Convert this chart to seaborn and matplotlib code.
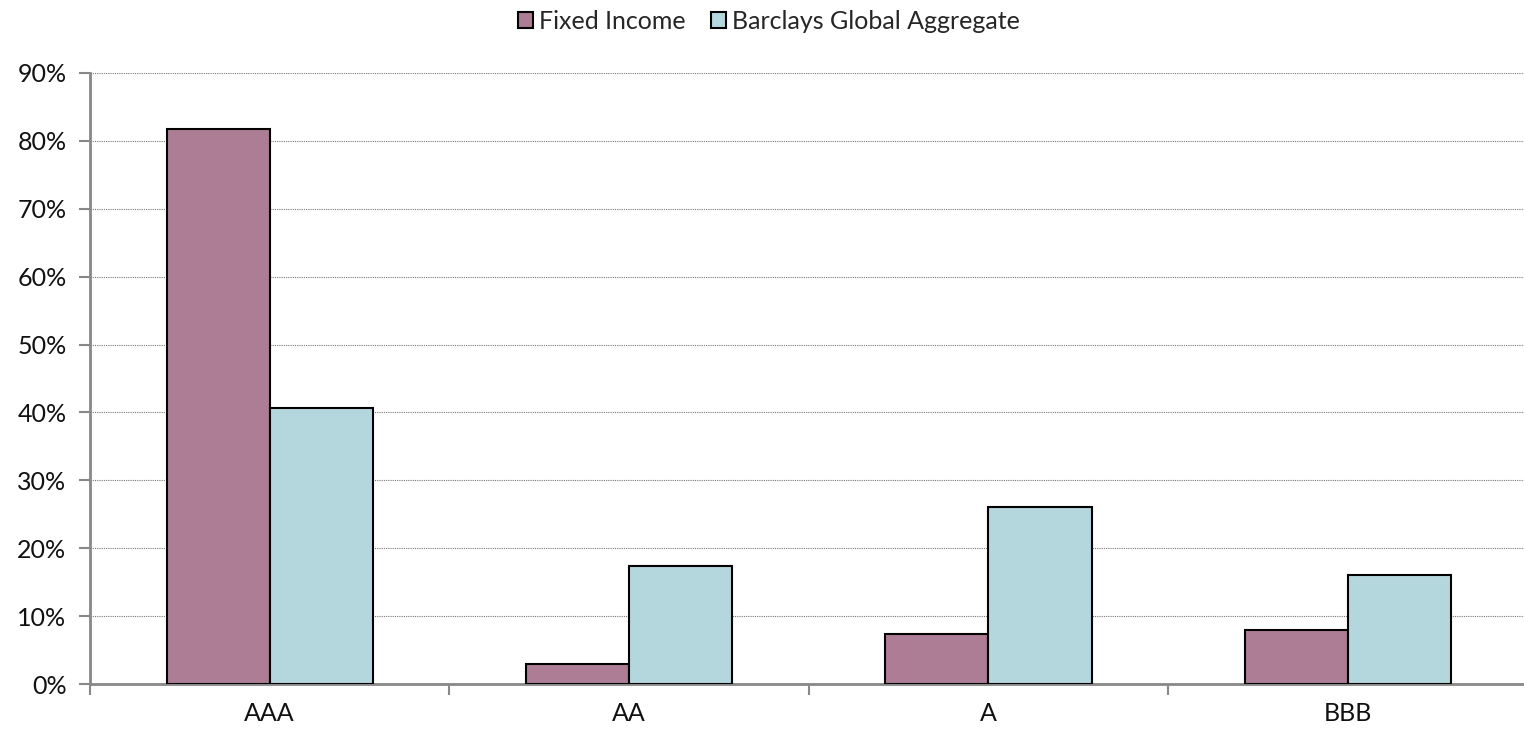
import matplotlib
matplotlib.use("Agg")
import matplotlib.pyplot as plt
from matplotlib.ticker import FuncFormatter, MultipleLocator
import seaborn as sns
import pandas as pd

ratings = ["AAA", "AA", "A", "BBB"]
fixed_income = [81.7, 2.9, 7.4, 8.0]
barclays_global_agg = [40.6, 17.4, 26.1, 16.0]
series_names = ["Fixed Income", "Barclays Global Aggregate"]
palette = ["#AC7D95", "#B4D7DD"]

df = pd.DataFrame({
    "rating": ratings * 2,
    "value": fixed_income + barclays_global_agg,
    "series": [series_names[0]] * len(ratings) + [series_names[1]] * len(ratings),
})

sns.set_theme(style="white")
plt.rcParams["font.family"] = ["Lato", "DejaVu Sans"]

fig = plt.figure(figsize=(15.24, 7.33), dpi=100)
ax = fig.add_axes([90 / 1524, 49 / 733, 1 - 90 / 1524, (684 - 73) / 733])

sns.barplot(data=df, x="rating", y="value", hue="series", order=ratings,
            hue_order=series_names, palette=palette, width=0.574, gap=0,
            edgecolor="black", linewidth=1.5, saturation=1, ax=ax, zorder=3)

ax.set_ylim(0, 90)
ax.set_xlim(-0.5, 3.49)
ax.yaxis.set_major_locator(MultipleLocator(10))
ax.yaxis.set_major_formatter(FuncFormatter(lambda v, _: f"{v:.0f}%"))
ax.set_xlabel("")
ax.set_ylabel("")

ax.grid(axis="y", color="#777777", linestyle=(0, (1, 1)), linewidth=0.8, zorder=0)
ax.set_axisbelow(True)

for side in ["top", "right"]:
    ax.spines[side].set_visible(False)
for side in ["left", "bottom"]:
    ax.spines[side].set_color("#888888")
    ax.spines[side].set_linewidth(2)

# category boundary ticks on x axis, labels centred between them
ax.set_xticks([0, 1, 2, 3])
ax.set_xticks([-0.5, 0.5, 1.5, 2.5], minor=True)
ax.tick_params(axis="x", which="major", length=0, pad=13, labelsize=18, labelcolor="#111111")
ax.tick_params(axis="x", which="minor", length=8, width=1.5, color="#888888", direction="out")
ax.tick_params(axis="y", which="major", length=8, width=1.5, color="#888888",
               direction="out", labelsize=18, labelcolor="#111111", pad=9)
ax.tick_params(axis="both", bottom=True, left=True)
ax.xaxis.set_tick_params(which="minor", bottom=True)

leg = ax.legend(loc="upper center", bbox_to_anchor=(0.5 - 38 / 1434, 1.14), ncol=2,
                frameon=False, fontsize=18, handlelength=0.6, handleheight=0.6,
                handletextpad=0.25, columnspacing=1.0)
for h in leg.legend_handles:
    h.set_edgecolor("black")
    h.set_linewidth(1.5)

fig.savefig("out.png", dpi=100)
